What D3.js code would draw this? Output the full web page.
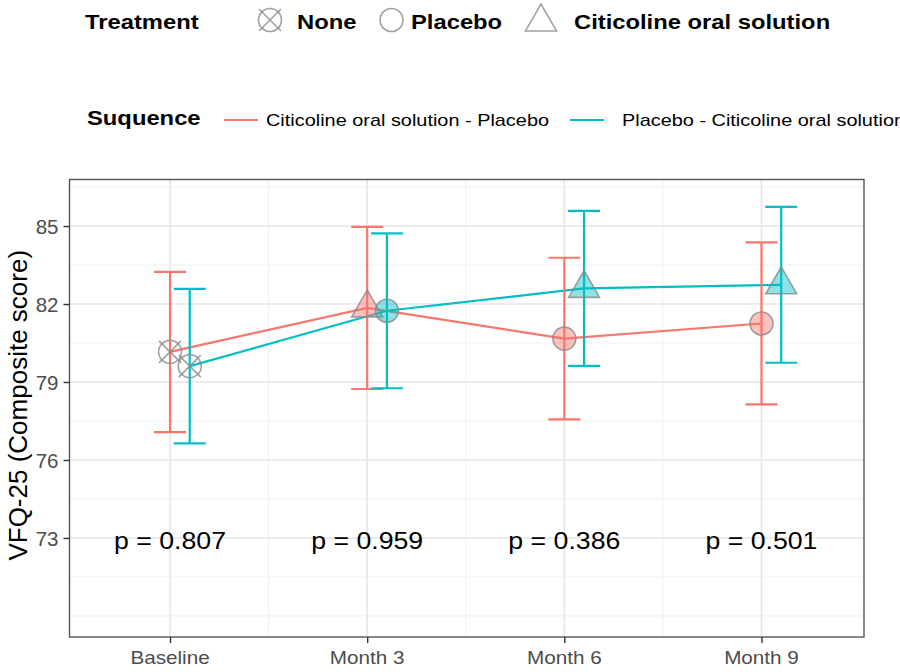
<!DOCTYPE html>
<html>
<head>
<meta charset="utf-8">
<script src="https://cdn.jsdelivr.net/npm/d3@7/dist/d3.min.js"></script>
<style>
  html, body { margin: 0; padding: 0; background: #fff; }
  svg { display: block; font-family: "Liberation Sans", Arial, Helvetica, sans-serif; }
</style>
</head>
<body>
<svg id="chart" width="900" height="672"></svg>
<script>
// ---------------- data ----------------
const categories = ["Baseline", "Month 3", "Month 6", "Month 9"];
const yTicks = [73, 76, 79, 82, 85];
const yMinor = [70, 71.5, 74.5, 77.5, 80.5, 83.5, 86.5];
const xMinor = [1.5, 2.5, 3.5];
const pLabels = ["p = 0.807", "p = 0.959", "p = 0.386", "p = 0.501"];

const seqNames = ["Citicoline oral solution - Placebo", "Placebo - Citicoline oral solution"];
const seqColors = ["#F8766D", "#00BFC4"];

// Sequence 1: Citicoline oral solution - Placebo
const seq1Mean  = [80.16, 81.85, 80.67, 81.25];
const seq1Lower = [77.07, 78.73, 77.56, 78.14];
const seq1Upper = [83.24, 84.97, 83.78, 84.37];
const seq1Treat = ["None", "Citicoline oral solution", "Placebo", "Placebo"];

// Sequence 2: Placebo - Citicoline oral solution
const seq2Mean  = [79.61, 81.74, 82.60, 82.74];
const seq2Lower = [76.64, 78.76, 79.62, 79.74];
const seq2Upper = [82.58, 84.72, 85.58, 85.74];
const seq2Treat = ["None", "Placebo", "Citicoline oral solution", "Citicoline oral solution"];

const treatments = ["None", "Placebo", "Citicoline oral solution"];
const dodge = [0, 0.1];

// ---------------- layout ----------------
const svg = d3.select("#chart");
const panel = { left: 69.5, right: 864, top: 179.5, bottom: 637 };

const x = d3.scaleLinear().domain([0.49, 4.52]).range([panel.left, panel.right]);
const y = d3.scaleLinear().domain([69.19, 86.79]).range([panel.bottom, panel.top]);

function addText(g, px, py, str, o) {
  const t = g.append("text")
    .attr("transform", `translate(${px},${py}) scale(${o.sx || 1},1)`)
    .attr("text-anchor", o.anchor || "start")
    .style("font-size", o.size + "px")
    .style("font-weight", o.bold ? "bold" : "normal")
    .attr("fill", o.fill || "#000")
    .text(str);
  return t;
}

// clip
svg.append("clipPath").attr("id", "clip")
  .append("rect").attr("x", panel.left).attr("y", panel.top)
  .attr("width", panel.right - panel.left).attr("height", panel.bottom - panel.top);

const grid = svg.append("g");
// minor grid
grid.selectAll(".ymin").data(yMinor).enter().append("line")
  .attr("x1", panel.left).attr("x2", panel.right)
  .attr("y1", d => y(d)).attr("y2", d => y(d))
  .attr("stroke", "#EFEFEF").attr("stroke-width", 1);
grid.selectAll(".xmin").data(xMinor).enter().append("line")
  .attr("y1", panel.top).attr("y2", panel.bottom)
  .attr("x1", d => x(d)).attr("x2", d => x(d))
  .attr("stroke", "#EFEFEF").attr("stroke-width", 1);
// major grid
grid.selectAll(".ymaj").data(yTicks).enter().append("line")
  .attr("x1", panel.left).attr("x2", panel.right)
  .attr("y1", d => y(d)).attr("y2", d => y(d))
  .attr("stroke", "#E6E6E6").attr("stroke-width", 1.6);
grid.selectAll(".xmaj").data(categories).enter().append("line")
  .attr("y1", panel.top).attr("y2", panel.bottom)
  .attr("x1", (d, i) => x(i + 1)).attr("x2", (d, i) => x(i + 1))
  .attr("stroke", "#E6E6E6").attr("stroke-width", 1.6);

// build series
const series = [
  { mean: seq1Mean, lo: seq1Lower, hi: seq1Upper, treat: seq1Treat },
  { mean: seq2Mean, lo: seq2Lower, hi: seq2Upper, treat: seq2Treat }
].map((s, k) => ({
  color: seqColors[k],
  pts: categories.map((c, i) => ({ xv: i + 1 + dodge[k], m: s.mean[i], lo: s.lo[i], hi: s.hi[i], t: s.treat[i] }))
}));

const plot = svg.append("g").attr("clip-path", "url(#clip)");

// p-value labels
categories.forEach((c, i) => {
  addText(plot, x(i + 1), 549, pLabels[i], { size: 23, sx: 1.16, anchor: "middle" });
});

// lines
const line = d3.line().x(d => x(d.xv)).y(d => y(d.m));
series.forEach(s => {
  plot.append("path").datum(s.pts).attr("d", line)
    .attr("fill", "none").attr("stroke", s.color).attr("stroke-width", 2.2);
});

// error bars
const capHalf = 16;
series.forEach(s => {
  const g = plot.append("g").attr("stroke", s.color).attr("stroke-width", 2.2).attr("fill", "none");
  s.pts.forEach(p => {
    const cx = x(p.xv);
    g.append("line").attr("x1", cx).attr("x2", cx).attr("y1", y(p.lo)).attr("y2", y(p.hi));
    g.append("line").attr("x1", cx - capHalf).attr("x2", cx + capHalf).attr("y1", y(p.lo)).attr("y2", y(p.lo));
    g.append("line").attr("x1", cx - capHalf).attr("x2", cx + capHalf).attr("y1", y(p.hi)).attr("y2", y(p.hi));
  });
});

// point shapes
const R = 11.5, TS = 31, TH = TS * Math.sqrt(3) / 2;
function drawShape(g, cx, cy, t, fill) {
  const stroke = "#8A8A8A";
  if (t === "None") {
    g.append("circle").attr("cx", cx).attr("cy", cy).attr("r", R)
      .attr("fill", "none").attr("stroke", stroke).attr("stroke-width", 1.6).attr("stroke-opacity", 0.8);
    const d = R * Math.SQRT1_2 * 1.35;
    g.append("path").attr("d", `M${cx - d},${cy - d}L${cx + d},${cy + d}M${cx - d},${cy + d}L${cx + d},${cy - d}`)
      .attr("stroke", stroke).attr("stroke-width", 1.6).attr("stroke-opacity", 0.8);
  } else if (t === "Placebo") {
    g.append("circle").attr("cx", cx).attr("cy", cy).attr("r", R)
      .attr("fill", fill).attr("fill-opacity", fill === "none" ? 1 : 0.45)
      .attr("stroke", stroke).attr("stroke-width", 1.6).attr("stroke-opacity", 0.8);
  } else {
    const pts = [[cx, cy - 2 * TH / 3], [cx + TS / 2, cy + TH / 3], [cx - TS / 2, cy + TH / 3]];
    g.append("path").attr("d", "M" + pts.map(p => p.join(",")).join("L") + "Z")
      .attr("fill", fill).attr("fill-opacity", fill === "none" ? 1 : 0.45)
      .attr("stroke", stroke).attr("stroke-width", 1.6).attr("stroke-opacity", 0.8)
      .attr("stroke-linejoin", "miter");
  }
}
series.forEach(s => {
  const g = plot.append("g");
  s.pts.forEach(p => drawShape(g, x(p.xv), y(p.m), p.t, s.color));
});

// panel border
svg.append("rect").attr("x", panel.left).attr("y", panel.top)
  .attr("width", panel.right - panel.left).attr("height", panel.bottom - panel.top)
  .attr("fill", "none").attr("stroke", "#555").attr("stroke-width", 1.4);

// axes
const yAxis = svg.append("g").attr("transform", `translate(${panel.left},0)`)
  .call(d3.axisLeft(y).tickValues(yTicks).tickSize(6).tickPadding(5).tickFormat(d3.format("d")));
yAxis.select(".domain").remove();
yAxis.selectAll(".tick line").attr("stroke", "#333").attr("stroke-width", 1.4);
yAxis.selectAll(".tick text").attr("fill", "#4D4D4D").style("font-size", "20.5px")
  .style("font-family", "'Liberation Sans', Arial, sans-serif").attr("dy", "0.36em");

const xAxis = svg.append("g").attr("transform", `translate(0,${panel.bottom})`)
  .call(d3.axisBottom(x).tickValues([1, 2, 3, 4]).tickSize(6).tickFormat(() => ""));
xAxis.select(".domain").remove();
xAxis.selectAll(".tick line").attr("stroke", "#333").attr("stroke-width", 1.4);
categories.forEach((c, i) => {
  addText(svg, x(i + 1), 664, c, { size: 18, sx: 1.15, anchor: "middle", fill: "#4D4D4D" });
});

// y title
svg.append("text")
  .attr("transform", `translate(27,${(panel.top + panel.bottom) / 2 - 3}) rotate(-90)`)
  .attr("text-anchor", "middle").style("font-size", "26px").attr("fill", "#000")
  .text("VFQ-25 (Composite score)");

// legend 1: Treatment
const leg = svg.append("g");
addText(leg, 85, 29, "Treatment", { size: 20.5, sx: 1.16, bold: true });
drawShape(leg, 270, 20, treatments[0], "none");
addText(leg, 297, 29, treatments[0], { size: 20.5, sx: 1.16, bold: true });
drawShape(leg, 391.5, 20, treatments[1], "none");
addText(leg, 411, 29, treatments[1], { size: 20.5, sx: 1.16, bold: true });
drawShape(leg, 541, 22, treatments[2], "none");
addText(leg, 574, 29, treatments[2], { size: 20.5, sx: 1.16, bold: true });

// legend 2: Sequence
addText(leg, 87, 125, "Suquence", { size: 20.5, sx: 1.16, bold: true });
const segX = [[224, 258], [570, 604]];
const txtX = [266, 622];
seqNames.forEach((n, k) => {
  leg.append("line").attr("x1", segX[k][0]).attr("x2", segX[k][1]).attr("y1", 120).attr("y2", 120)
    .attr("stroke", seqColors[k]).attr("stroke-width", 2.2);
  addText(leg, txtX[k], 126, n, { size: 17, sx: 1.17 });
});
</script>
</body>
</html>
